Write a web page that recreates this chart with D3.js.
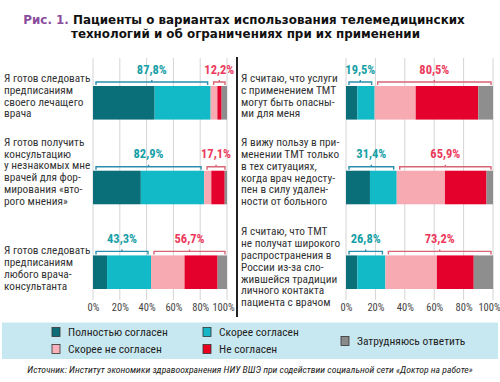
<!DOCTYPE html>
<html><head><meta charset="utf-8">
<script src="https://cdn.jsdelivr.net/npm/d3@7"></script>
<style>
body{margin:0;background:#fff;}
svg{display:block;}
.nar{font-family:"Liberation Sans Narrow","Arial Narrow","Roboto Condensed",sans-serif;}
</style></head>
<body>
<svg id="c" width="500" height="382"></svg>
<script>
// ---- data ----
const seriesNames = ["Полностью согласен","Скорее согласен","Скорее не согласен","Не согласен","Затрудняюсь ответить"];
const categoryLines = [
  ["Я готов следовать","предписаниям","своего лечащего","врача"],
  ["Я готов получить","консультацию","у незнакомых мне","врачей для фор-","мирования «вто-","рого мнения»"],
  ["Я готов следовать","предписаниям","любого врача-","консультанта"],
  ["Я считаю, что услуги","с применением ТМТ","могут быть опасны-","ми для меня"],
  ["Я вижу пользу в при-","менении ТМТ только","в тех ситуациях,","когда врач недосту-","пен в силу удален-","ности от больного"],
  ["Я считаю, что ТМТ","не получат широкого","распространения в","России из-за сло-","жившейся традиции","личного контакта","пациента с врачом"]
];
const fullyAgree     = [46.0, 35.7, 10.5,  7.7, 16.3,  7.7];
const ratherAgree    = [41.8, 47.2, 32.8, 11.8, 18.2, 19.1];
const ratherDisagree = [ 5.0,  5.4, 25.0, 27.9, 32.8, 35.0];
const disagree       = [ 3.2, 10.0, 24.7, 42.6, 28.3, 25.1];
const hardToSay      = [ 4.0,  1.7,  7.0, 10.0,  4.4, 13.2];
const agreeLabels    = ["87,8%","82,9%","43,3%","19,5%","31,4%","26,8%"];
const disagreeLabels = ["12,2%","17,1%","56,7%","80,5%","65,9%","73,2%"];
const tickValues = [0,20,40,60,80,100];
const titlePrefix = "Рис. 1.";
const titleLine1 = "Пациенты о вариантах использования телемедицинских";
const titleLine2 = "технологий и об ограничениях при их применении";
const sourceText = "Источник: Институт экономики здравоохранения НИУ ВШЭ при содействии социальной сети «Доктор на работе»";

// ---- layout / style ----
const colors = ["#0b6f79","#12b9c6","#f8aab2","#e4012b","#8e8e8e"];
const legendColors = ["#0e6d78","#16b6c6","#f9b2ba","#e8001e","#8a8a8a"];
const labelFirstOffset = [-8,-29,-5,-8,-28.5,-24]; // first text line center relative to bar top
const lineH = 11.8;

const svg = d3.select("#c");
const series = [fullyAgree, ratherAgree, ratherDisagree, disagree, hardToSay];

// title
const t1 = svg.append("text").attr("x",244).attr("y",24).attr("text-anchor","middle")
  .style("font-family","DejaVu Sans").style("font-weight","bold").style("font-size","11.9px");
t1.append("tspan").attr("fill","#8a4e9c").text(titlePrefix+" ");
t1.append("tspan").attr("fill","#111").text(titleLine1);
svg.append("text").attr("x",245.5).attr("y",37.5).attr("text-anchor","middle")
  .style("font-family","DejaVu Sans").style("font-weight","bold").style("font-size","11.9px")
  .attr("fill","#111").text(titleLine2);

const y = d3.scaleBand().domain([0,1,2]).range([86,289]).paddingInner(0.6036).paddingOuter(0);
const panels = [
  {x: d3.scaleLinear().domain([0,100]).range([93,227]), idx:[0,1,2], labelX:4},
  {x: d3.scaleLinear().domain([0,100]).range([346,493]), idx:[3,4,5], labelX:241}
];

panels.forEach(p=>{
  const g = svg.append("g");
  g.selectAll("line.grid").data(tickValues).join("line")
    .attr("x1",d=>p.x(d)).attr("x2",d=>p.x(d)).attr("y1",58).attr("y2",300)
    .attr("stroke","#d4d4d4").attr("stroke-width",1);
  const ax = g.append("g").attr("transform","translate(0,300)")
    .call(d3.axisBottom(p.x).tickValues(tickValues).tickFormat(d=>d+"%").tickSize(0).tickPadding(4));
  ax.select(".domain").remove();
  ax.selectAll("text").attr("class","nar").style("font-size","10.5px").attr("fill","#444")
    .attr("dx",d=>d===100?-4:0);

  p.idx.forEach((ci,row)=>{
    const top = y(row), h = y.bandwidth();
    let cum = 0;
    series.forEach((s,si)=>{
      const v = s[ci];
      g.append("rect").attr("x",p.x(cum)).attr("y",top)
        .attr("width",p.x(cum+v)-p.x(cum)).attr("height",h).attr("fill",colors[si]);
      cum += v;
    });
    const agreeEnd = fullyAgree[ci]+ratherAgree[ci];
    const brackets = [
      {a:p.x(0)+3, b:p.x(agreeEnd)-3, col:"#2a8fae", tcol:"#17a0a6", txt:agreeLabels[ci]},
      {a:p.x(agreeEnd)+3, b:p.x(100)-2, col:"#d86474", tcol:"#ec3a5c", txt:disagreeLabels[ci]}
    ];
    brackets.forEach(br=>{
      const by = top-4, m=(br.a+br.b)/2;
      g.append("path").attr("d",`M${br.a},${top-1}V${by}H${br.b}V${top-1}M${m},${by}V${by-2}`)
        .attr("fill","none").attr("stroke",br.col).attr("stroke-width",1.4);
      g.append("text").attr("class","nar").attr("x",m).attr("y",top-12.5)
        .attr("text-anchor","middle").style("font-size","12.5px").style("font-weight","bold")
        .attr("fill",br.tcol).text(br.txt);
    });
    const tl = svg.append("text").attr("class","nar").style("font-size","11.3px").attr("fill","#333");
    categoryLines[ci].forEach((ln,li)=>{
      tl.append("tspan").attr("x",p.labelX).attr("y",top+labelFirstOffset[ci]+li*lineH+4).text(ln);
    });
  });
});

// separator
svg.append("line").attr("x1",237).attr("x2",237).attr("y1",57).attr("y2",317)
  .attr("stroke","#222").attr("stroke-width",2);

// legend
svg.append("rect").attr("x",2).attr("y",322.5).attr("width",496).attr("height",36.5).attr("fill","#c8e8f1");
const legendItems = [
  {i:0, x:52, y:332},{i:1, x:203, y:332},{i:2, x:52, y:349},{i:3, x:203, y:349},{i:4, x:341, y:341}
];
legendItems.forEach(it=>{
  svg.append("rect").attr("x",it.x).attr("y",it.y-4.5).attr("width",8).attr("height",9)
    .attr("fill",legendColors[it.i]).attr("stroke","#333").attr("stroke-width",0.8);
  svg.append("text").attr("class","nar").attr("x",it.x+16).attr("y",it.y+4)
    .style("font-size","11.5px").attr("fill","#222").text(seriesNames[it.i]);
});

// source
svg.append("text").attr("class","nar").attr("x",250).attr("y",373).attr("text-anchor","middle")
  .style("font-size","9.7px").style("font-style","italic").attr("fill","#222").text(sourceText);
</script>
</body></html>
